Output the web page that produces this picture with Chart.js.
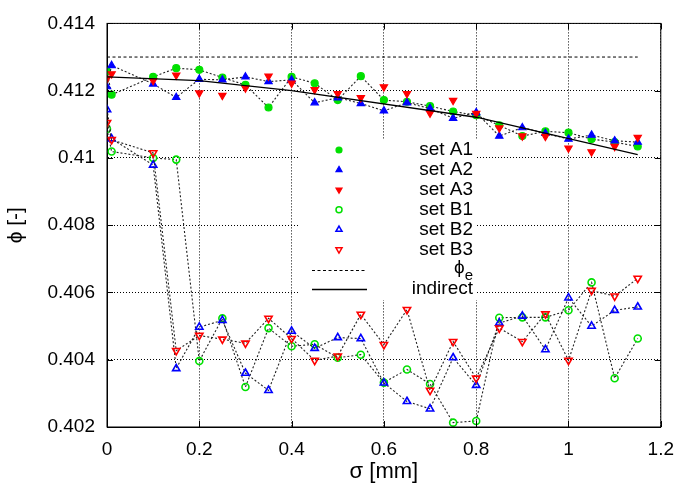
<!DOCTYPE html>
<html>
<head>
<meta charset="utf-8">
<script src="https://cdn.jsdelivr.net/npm/chart.js@4"></script>
<style>
  html, body { margin: 0; padding: 0; background: #fff; }
  #wrap { width: 685px; height: 496px; }
</style>
</head>
<body>
<div id="wrap"><canvas id="phiChart" width="685" height="496"></canvas></div>
<script>
// sigma positions [mm]
const sigma = [0, 0.01, 0.1, 0.15, 0.2, 0.25, 0.3, 0.35, 0.4, 0.45, 0.5, 0.55,
               0.6, 0.65, 0.7, 0.75, 0.8, 0.85, 0.9, 0.95, 1.0, 1.05, 1.1, 1.15];

const setA1 = [0.41258, 0.41188, 0.41241, 0.41267, 0.41262, 0.41239, 0.41217, 0.41150,
               0.41241, 0.41222, 0.41172, 0.41243, 0.41172, 0.41167, 0.41154, 0.41138,
               0.41127, 0.41097, 0.41065, 0.41079, 0.41075, 0.41056, 0.41047, 0.41034];
const setA2 = [0.41212, 0.41275, 0.41220, 0.41180, 0.41234, 0.41232, 0.41241, 0.41227,
               0.41232, 0.41164, 0.41179, 0.41162, 0.41140, 0.41164, 0.41147, 0.41118,
               0.41135, 0.41065, 0.41090, 0.41073, 0.41056, 0.41068, 0.41051, 0.41047];
const setA3 = [0.41236, 0.41250, 0.41230, 0.41246, 0.41193, 0.41186, 0.41208, 0.41243,
               0.41222, 0.41203, 0.41191, 0.41179, 0.41211, 0.41191, 0.41133, 0.41171,
               0.41132, 0.41089, 0.41065, 0.41064, 0.41029, 0.41018, 0.41034, 0.41061];
const setB1 = [0.41086, 0.41019, 0.41000, 0.40995, 0.40396, 0.40523, 0.40319, 0.40494,
               0.40440, 0.40446, 0.40406, 0.40415, 0.40332, 0.40371, 0.40328, 0.40213,
               0.40218, 0.40525, 0.40526, 0.40526, 0.40547, 0.40630, 0.40345, 0.40463];
const setB2 = [0.41144, 0.41057, 0.40979, 0.40374, 0.40497, 0.40517, 0.40360, 0.40309,
               0.40485, 0.40434, 0.40466, 0.40463, 0.40331, 0.40276, 0.40254, 0.40406,
               0.40324, 0.40509, 0.40530, 0.40430, 0.40584, 0.40500, 0.40547, 0.40557];
const setB3 = [0.41105, 0.41054, 0.41015, 0.40427, 0.40472, 0.40461, 0.40449, 0.40523,
               0.40463, 0.40398, 0.40411, 0.40535, 0.40445, 0.40549, 0.40309, 0.40454,
               0.40345, 0.40494, 0.40454, 0.40536, 0.40398, 0.40606, 0.40589, 0.40642];

const phiE = 0.413;
const phiESigma = [0, 1.15];
const indirectSigma = [0, 0.2, 0.4, 0.8, 1.15];
const indirectPhi = [0.41241, 0.41230, 0.41200, 0.41121, 0.41010];

const xTicks = [0, 0.2, 0.4, 0.6, 0.8, 1, 1.2];
const yTicks = [0.402, 0.404, 0.406, 0.408, 0.41, 0.412, 0.414];

const GREEN = '#00e000', BLUE = '#0000ff', RED = '#ff0000';
const FONT = "'Liberation Sans', Arial, sans-serif";

function pts(xs, ys) { return xs.map((x, i) => ({x: x, y: ys[i]})); }

function markerSet(label, ys, color, style, rot, filled, line, order) {
    return {
        label: label,
        data: pts(sigma, ys),
        showLine: line,
        borderColor: '#222',
        borderWidth: 1.1,
        borderDash: [2, 2],
        pointStyle: style,
        rotation: rot,
        pointRadius: style === 'circle' ? 3.5 : 4.2,
        pointBorderWidth: filled ? 1.2 : 1.6,
        pointBorderColor: color,
        pointBackgroundColor: filled ? color : 'rgba(255,255,255,0)',
        order: order
    };
}

const legendRows = [
    {text: 'set A1', color: GREEN, style: 'circle', rot: 0, filled: true},
    {text: 'set A2', color: BLUE, style: 'triangle', rot: 0, filled: true},
    {text: 'set A3', color: RED, style: 'triangle', rot: 180, filled: true},
    {text: 'set B1', color: GREEN, style: 'circle', rot: 0, filled: false},
    {text: 'set B2', color: BLUE, style: 'triangle', rot: 0, filled: false},
    {text: 'set B3', color: RED, style: 'triangle', rot: 180, filled: false}
];

const framePlugin = {
    id: 'frame',
    beforeDatasetsDraw(chart) {
        const ctx = chart.ctx;
        ctx.save();
        ctx.fillStyle = '#fff';
        ctx.fillRect(300, 140, 177, 160);
        ctx.restore();
    },
    afterDatasetsDraw(chart) {
        const ctx = chart.ctx;
        const a = chart.chartArea;
        const xs = chart.scales.x, ys = chart.scales.y;
        ctx.save();
        ctx.strokeStyle = '#000';
        ctx.lineWidth = 1;
        ctx.setLineDash([]);
        ctx.strokeRect(a.left, a.top, a.right - a.left, a.bottom - a.top);
        ctx.beginPath();
        xTicks.forEach(v => {
            const px = Math.round(xs.getPixelForValue(v)) + 0.5;
            ctx.moveTo(px, a.bottom); ctx.lineTo(px, a.bottom - 6);
            ctx.moveTo(px, a.top); ctx.lineTo(px, a.top + 6);
        });
        yTicks.forEach(v => {
            const py = Math.round(ys.getPixelForValue(v)) + 0.5;
            ctx.moveTo(a.left, py); ctx.lineTo(a.left + 6, py);
            ctx.moveTo(a.right, py); ctx.lineTo(a.right - 6, py);
        });
        ctx.stroke();

        // key
        const textRight = 473, markX = 339;
        ctx.font = '19px ' + FONT;
        ctx.fillStyle = '#000';
        ctx.textAlign = 'right';
        ctx.textBaseline = 'middle';
        legendRows.forEach((r, i) => {
            const y = 150 + i * 19.9;
            ctx.fillText(r.text, textRight, y);
            ctx.save();
            ctx.lineWidth = r.filled ? 1.2 : 1.5;
            ctx.strokeStyle = r.color;
            ctx.fillStyle = r.filled ? r.color : 'rgba(255,255,255,0)';
            Chart.helpers.drawPoint(ctx, {pointStyle: r.style, rotation: r.rot,
                radius: r.style === 'circle' ? 3 : 3.5, borderWidth: 1.2}, markX, y);
            ctx.restore();
        });
        // phi_e row
        ctx.font = '15px ' + FONT;
        const eW = ctx.measureText('e').width;
        ctx.fillText('e', textRight, 276);
        ctx.font = '19px ' + FONT;
        ctx.fillText('ϕ', textRight - eW, 268);
        ctx.beginPath();
        ctx.setLineDash([3, 2.5]);
        ctx.moveTo(312, 270.5); ctx.lineTo(366, 270.5);
        ctx.stroke();
        // indirect row
        ctx.fillText('indirect', textRight, 289);
        ctx.beginPath();
        ctx.setLineDash([]);
        ctx.lineWidth = 1.3;
        ctx.moveTo(312, 289.5); ctx.lineTo(367, 289.5);
        ctx.stroke();
        ctx.restore();
    }
};

new Chart(document.getElementById('phiChart'), {
    type: 'scatter',
    data: {
        datasets: [
            markerSet('set A1', setA1, GREEN, 'circle', 0, true, true, 8),
            markerSet('set A2', setA2, BLUE, 'triangle', 0, true, true, 7),
            markerSet('set A3', setA3, RED, 'triangle', 180, true, false, 6),
            markerSet('set B1', setB1, GREEN, 'circle', 0, false, true, 5),
            markerSet('set B2', setB2, BLUE, 'triangle', 0, false, true, 4),
            markerSet('set B3', setB3, RED, 'triangle', 180, false, true, 3),
            {
                label: 'ϕe',
                data: phiESigma.map(s => ({x: s, y: phiE})),
                showLine: true,
                borderColor: '#000',
                borderWidth: 1,
                borderDash: [3, 2.5],
                pointRadius: 0,
                order: 2
            },
            {
                label: 'indirect',
                data: pts(indirectSigma, indirectPhi),
                showLine: true,
                borderColor: '#000',
                borderWidth: 1.3,
                pointRadius: 0,
                order: 1
            }
        ]
    },
    options: {
        responsive: false,
        animation: false,
        layout: { padding: { top: 12, right: 18, left: 0, bottom: 0 } },
        plugins: {
            legend: { display: false },
            tooltip: { enabled: false }
        },
        scales: {
            x: {
                type: 'linear',
                min: 0,
                max: 1.2,
                afterBuildTicks(scale) { scale.ticks = xTicks.map(v => ({value: v})); },
                afterFit(scale) { scale.height = 69; },
                grid: { color: '#000', lineWidth: 1, drawTicks: false },
                border: { display: true, color: '#000', width: 1, dash: [1, 2] },
                ticks: {
                    padding: 11,
                    color: '#000',
                    font: { family: FONT, size: 19 },
                    callback: v => String(Number(v.toFixed(1)))
                },
                title: {
                    display: true,
                    text: 'σ [mm]',
                    color: '#000',
                    font: { family: FONT, size: 22 },
                    padding: { top: 0, bottom: 11 }
                }
            },
            y: {
                type: 'linear',
                min: 0.402,
                max: 0.414,
                afterBuildTicks(scale) { scale.ticks = yTicks.map(v => ({value: v})); },
                afterFit(scale) { scale.width = 107; },
                grid: { color: '#000', lineWidth: 1, drawTicks: false },
                border: { display: true, color: '#000', width: 1, dash: [1, 2] },
                ticks: {
                    padding: 12,
                    color: '#000',
                    font: { family: FONT, size: 19 },
                    callback: v => String(Number(v.toFixed(3)))
                },
                title: {
                    display: true,
                    text: 'ϕ [-]',
                    color: '#000',
                    font: { family: FONT, size: 21 },
                    padding: { top: 4, bottom: 0 }
                }
            }
        }
    },
    plugins: [framePlugin]
});
</script>
</body>
</html>
